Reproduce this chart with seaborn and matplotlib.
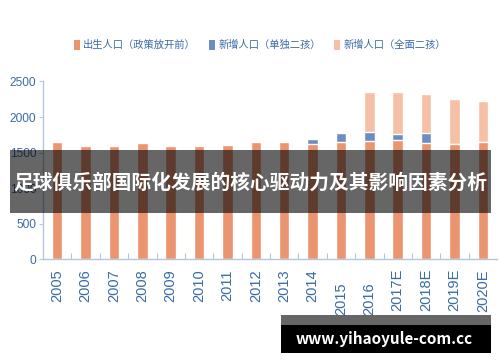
import matplotlib
matplotlib.use("Agg")
import matplotlib.pyplot as plt
import seaborn as sns
import numpy as np
import pandas as pd
from matplotlib.patches import Patch, Rectangle
from matplotlib.transforms import ScaledTranslation
from matplotlib.ticker import FixedLocator

sns.set_style("white")
plt.rcParams['font.family'] = ['Noto Sans CJK SC', 'DejaVu Sans']

years = ['2005', '2006', '2007', '2008', '2009', '2010', '2011', '2012', '2013',
         '2014', '2015', '2016', '2017E', '2018E', '2019E', '2020E']
births_before = [1654, 1598, 1598, 1636, 1594, 1594, 1608, 1654, 1654,
                 1622, 1654, 1664, 1674, 1632, 1618, 1646]
added_single = [0, 0, 0, 0, 0, 0, 0, 0, 0,
                74, 126, 122, 84, 140, 0, 0]
added_full = [0, 0, 0, 0, 0, 0, 0, 0, 0,
              0, 0, 571, 591, 549, 641, 581]
series_names = ['出生人口（政策放开前）', '新增人口（单独二孩）', '新增人口（全面二孩）']
yticks = [0, 500, 1000, 1500, 2000, 2500]

c_orange = '#EB9470'
c_blue = '#6D8DC2'
c_light = '#F5C0A6'
c_text = '#3A6AA6'
c_axis = '#B3C6DC'

df = pd.DataFrame({'year': years, 'a': births_before, 'b': added_single, 'c': added_full})
df['ab'] = df['a'] + df['b']
df['abc'] = df['ab'] + df['c']

fig = plt.figure(figsize=(5, 3.62), dpi=100)
ax = fig.add_axes([0.086, 0.2837, 0.908, 0.4912])

bw = 0.37
sns.barplot(data=df, x='year', y='abc', color=c_light, saturation=1, width=bw,
            errorbar=None, ax=ax)
sns.barplot(data=df, x='year', y='ab', color=c_blue, saturation=1, width=bw,
            errorbar=None, ax=ax)
sns.barplot(data=df, x='year', y='a', color=c_orange, saturation=1, width=bw,
            errorbar=None, ax=ax)

ax.set_xlim(-0.5, len(years) - 0.5)
ax.set_ylim(0, 2500)
ax.set_yticks(yticks)
ax.set_xlabel('')
ax.set_ylabel('')

for s in ['top', 'right']:
    ax.spines[s].set_visible(False)
for s in ['left', 'bottom']:
    ax.spines[s].set_color(c_axis)
    ax.spines[s].set_linewidth(1.0)

num_family = ['Liberation Sans Narrow', 'Liberation Sans', 'DejaVu Sans']
ax.set_yticklabels([str(v) for v in yticks], color=c_text, family=num_family, size=8.6)
ax.tick_params(axis='y', direction='out', length=3, width=0.8, color=c_axis, pad=2, left=True)

ax.set_xticks(range(len(years)))
ax.set_xticklabels(years, rotation=90, color=c_text, family=num_family, size=10.5, va='top')
ax.tick_params(axis='x', length=0, pad=7, bottom=True)
ax.xaxis.set_minor_locator(FixedLocator(np.arange(0.5, len(years) - 0.5, 1)))
ax.tick_params(axis='x', which='minor', direction='in', length=4, width=0.8, color=c_axis, bottom=True)

for lab in ax.get_xticklabels():
    if lab.get_text() in ('2015', '2016'):
        lab.set_transform(lab.get_transform() + ScaledTranslation(0, -0.13, fig.dpi_scale_trans))

handles = [Patch(facecolor=c, edgecolor='none') for c in (c_orange, c_blue, c_light)]
fig.legend(handles, series_names, loc='center', bbox_to_anchor=(0.52, 1 - 45 / 362), ncol=3,
           frameon=False, prop={'family': 'Noto Sans CJK SC', 'size': 7.4},
           handlelength=0.55, handleheight=1.1, handletextpad=0.35, columnspacing=1.3,
           labelcolor=c_text)

# overlay banner
fig.patches.append(Rectangle((10 / 500, 1 - 213 / 362), 481 / 500, 63 / 362,
                             transform=fig.transFigure, facecolor='black', alpha=0.6,
                             edgecolor='none', zorder=5))
fig.text(0.5, 1 - 183 / 362, '足球俱乐部国际化发展的核心驱动力及其影响因素分析',
         ha='center', va='center', color='white', fontsize=14.2, fontweight='bold',
         family=['Noto Sans CJK SC', 'DejaVu Sans'], zorder=6)

# watermark
fig.patches.append(Rectangle((281 / 500, 1 - 353 / 362), 210 / 500, 38 / 362,
                             transform=fig.transFigure, facecolor='black', alpha=0.6,
                             edgecolor='none', zorder=5))
fig.patches.append(Rectangle((281 / 500, 1 - 353 / 362), 210 / 500, 28 / 362,
                             transform=fig.transFigure, facecolor='black',
                             edgecolor='none', zorder=5))
fig.text(384 / 500, 1 - 339 / 362, 'www.yihaoyule-com.cc', ha='center', va='center',
         color='white', fontsize=11, fontweight='bold',
         family=['Noto Sans CJK SC', 'DejaVu Sans'], zorder=6)

fig.savefig('out.png', dpi=100)
